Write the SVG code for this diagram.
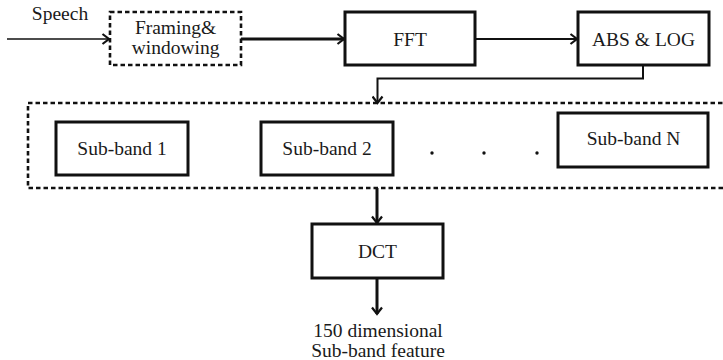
<svg xmlns="http://www.w3.org/2000/svg" width="723" height="360" viewBox="0 0 723 360">
<style>
text{font-family:'Liberation Serif','DejaVu Serif',serif;font-size:19.5px;fill:#1a1a1a;text-anchor:middle}
.box{fill:#fff;stroke:#111;stroke-width:3}
.dash{fill:none;stroke:#111;stroke-width:2.6;stroke-dasharray:4.5 3}
.c{fill:none;stroke:#111}
</style>
<defs>
<marker id="ah" viewBox="0 0 12 12" refX="8" refY="6" markerWidth="12" markerHeight="12" markerUnits="userSpaceOnUse" orient="auto">
<path d="M1.5,1 L8,6 L1.5,11" fill="none" stroke="#111" stroke-width="2.2"/>
</marker>
</defs>
<rect width="723" height="360" fill="#fff"/>
<g id="connectors">
<line class="c" x1="7" y1="39" x2="109" y2="39" stroke-width="1.6" marker-end="url(#ah)"/>
<line class="c" x1="241" y1="39" x2="344" y2="39" stroke-width="3" marker-end="url(#ah)"/>
<line class="c" x1="475" y1="39" x2="577" y2="39" stroke-width="2" marker-end="url(#ah)"/>
<polyline class="c" points="643,65 643,78.5 377.5,78.5 377.5,103" stroke-width="2" marker-end="url(#ah)"/>
<line class="c" x1="377" y1="188" x2="377" y2="223" stroke-width="3" marker-end="url(#ah)"/>
<line class="c" x1="377" y1="278" x2="377" y2="314" stroke-width="3" marker-end="url(#ah)"/>
</g>
<g id="speech"><text x="60" y="20">Speech</text></g>
<g id="framing">
<rect class="dash" x="110" y="12" width="131" height="53"/>
<text x="175.5" y="34">Framing&amp;</text>
<text x="175.5" y="54">windowing</text>
</g>
<g id="fft">
<rect class="box" x="345" y="12" width="130" height="53"/>
<text x="410" y="46">FFT</text>
</g>
<g id="abslog">
<rect class="box" x="578" y="12" width="131" height="53"/>
<text x="643.5" y="46">ABS &amp; LOG</text>
</g>
<g id="subbands">
<rect class="dash" x="28" y="103" width="710" height="85"/>
</g>
<g id="subband1">
<rect class="box" x="56" y="122" width="132" height="53"/>
<text x="122" y="155">Sub-band 1</text>
</g>
<g id="subband2">
<rect class="box" x="261" y="122" width="132" height="53"/>
<text x="327" y="155">Sub-band 2</text>
</g>
<g id="dots" fill="#111">
<circle cx="432" cy="153" r="1.7"/>
<circle cx="484" cy="153" r="1.7"/>
<circle cx="537" cy="153" r="1.7"/>
</g>
<g id="subbandN">
<rect class="box" x="558" y="113" width="150" height="54"/>
<text x="633.5" y="145">Sub-band N</text>
</g>
<g id="dct">
<rect class="box" x="312" y="224" width="131" height="54"/>
<text x="377.5" y="258">DCT</text>
</g>
<g id="output">
<text x="378" y="337">150 dimensional</text>
<text x="378" y="357">Sub-band feature</text>
</g>
</svg>
